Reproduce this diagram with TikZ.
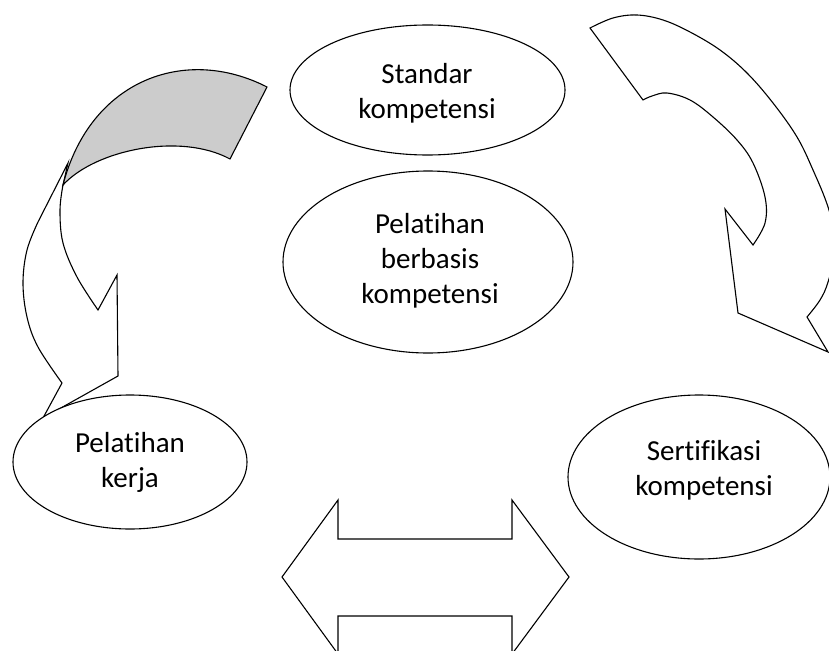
\documentclass[tikz,border=0pt]{standalone}
\usepackage{fontspec}
\setmainfont[Ligatures=NoCommon]{Carlito}
\usetikzlibrary{shapes.geometric}
\definecolor{backgray}{RGB}{204,204,204}
\tikzset{
  outline/.style={draw=black, line width=1.1pt, line join=miter},
  blockarrow/.style={outline, fill=white},
  bubble/.style={ellipse, outline, fill=white, inner sep=0pt},
  caption/.style={align=center, font=\fontsize{29}{35}\selectfont, inner sep=0pt},
}
\begin{document}
\begin{tikzpicture}[x=1pt, y=-1pt]
\useasboundingbox (0,0) rectangle (829,650);
\clip (0,0) rectangle (829,650);

% left curved arrow: front (white) part
\filldraw[blockarrow] (68,163) -- (38,222)
  -- plot[smooth, tension=0.6] coordinates {(38,222) (27,250) (23,283) (27,317) (38,347) (62,383)}
  -- (43,418) -- (118,376) -- (117,275) -- (98,310)
  -- plot[smooth, tension=0.6] coordinates {(98,310) (77,277) (63,243) (60,210) (63,185)}
  -- cycle;
% left curved arrow: back (gray) part
\filldraw[outline, fill=backgray] (267,87)
  .. controls (185,45) and (90,80) .. (63,185)
  .. controls (95,150) and (180,132) .. (230,159)
  -- cycle;

% right curved arrow
\filldraw[blockarrow] (590,28)
  -- plot[smooth, tension=0.6] coordinates {(590,28) (613,18) (637,15) (663,20) (690,32) (720,50) (747,73) (773,103) (797,137) (813,170) (828,207) (837,245) (828,282) (820,300) (807,317)}
  -- (828,352) -- (738,313) -- (725,209) -- (753,245)
  -- plot[smooth, tension=0.6] coordinates {(753,245) (765,223) (765,197) (753,163) (737,140) (713,117) (690,100) (667,93) (652,96) (643,100)}
  -- cycle;

% double-headed block arrow
\filldraw[blockarrow] (282,577) -- (338,500) -- (338,539) -- (512,539) -- (512,500)
  -- (569,577) -- (512,654) -- (512,616) -- (338,616) -- (338,654) -- cycle;

% ellipses
\node[bubble, minimum width=275pt, minimum height=130pt] (std) at (427.5,90) {};
\node[bubble, minimum width=290pt, minimum height=182pt] (pbk) at (428,262) {};
\node[bubble, minimum width=234pt, minimum height=134pt] (pk) at (130,462) {};
\node[bubble, minimum width=262pt, minimum height=164pt] (sk) at (699,477) {};

% labels
\node[caption] (stdtext) at (427,93) {Standar\\kompetensi};
\node[caption] (pbktext) at (430,261) {Pelatihan\\berbasis\\kompetensi};
\node[caption] (pktext) at (130,462) {Pelatihan\\kerja};
\node[caption] (sktext) at (704,470) {Sertifikasi\\kompetensi};
\end{tikzpicture}
\end{document}
